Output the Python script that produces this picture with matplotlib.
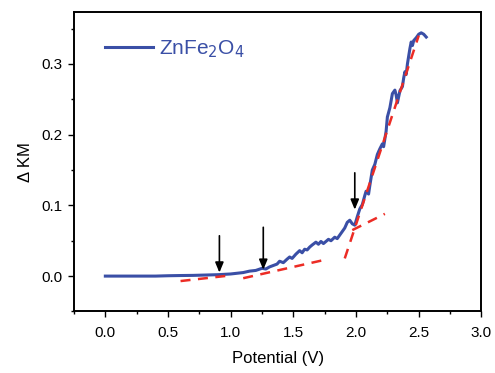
"""Delta KM vs potential for ZnFe2O4 with tangent lines marking onsets"""
import matplotlib.pyplot as plt
from matplotlib.patches import Rectangle
from matplotlib.ticker import MultipleLocator

plt.rcParams['font.family'] = ['Liberation Sans', 'DejaVu Sans']

# curve
potential = [0.00, 0.10, 0.20, 0.30, 0.40, 0.50, 0.60, 0.70, 0.80, 0.90,
             1.00, 1.05, 1.10, 1.15, 1.20, 1.25, 1.28, 1.31, 1.34, 1.37,
             1.39, 1.42, 1.45, 1.47, 1.49, 1.52, 1.55, 1.57, 1.59, 1.61,
             1.63, 1.65, 1.68, 1.70, 1.72, 1.74, 1.76, 1.78, 1.80, 1.83,
             1.85, 1.87, 1.89, 1.91, 1.93, 1.95, 1.97, 1.99, 2.01, 2.03,
             2.05, 2.07, 2.08, 2.10, 2.11, 2.13, 2.15, 2.17, 2.19, 2.21,
             2.22, 2.24, 2.25, 2.27, 2.29, 2.31, 2.32, 2.33, 2.35, 2.37,
             2.38, 2.39, 2.40, 2.41, 2.43, 2.44, 2.45, 2.46, 2.48, 2.50,
             2.52, 2.54, 2.56]
delta_km = [0.000, 0.000, 0.000, 0.000, 0.000, 0.0005, 0.0008, 0.001, 0.0015, 0.002,
            0.003, 0.004, 0.005, 0.007, 0.008, 0.011, 0.010, 0.013, 0.015, 0.017,
            0.021, 0.019, 0.024, 0.027, 0.025, 0.031, 0.036, 0.033, 0.038, 0.037,
            0.041, 0.044, 0.048, 0.045, 0.049, 0.046, 0.049, 0.052, 0.050, 0.055,
            0.053, 0.058, 0.063, 0.068, 0.076, 0.079, 0.074, 0.072, 0.084, 0.095,
            0.101, 0.114, 0.120, 0.116, 0.128, 0.150, 0.158, 0.172, 0.180, 0.187,
            0.183, 0.205, 0.225, 0.238, 0.258, 0.263, 0.256, 0.245, 0.262, 0.268,
            0.280, 0.289, 0.285, 0.300, 0.322, 0.331, 0.326, 0.333, 0.337, 0.342,
            0.344, 0.342, 0.338]

# tangent lines (start/end)
tangent_x = [[0.60, 1.00], [1.10, 1.75], [1.91, 2.50], [1.97, 2.23]]
tangent_y = [[-0.007, 0.001], [-0.003, 0.023], [0.025, 0.340], [0.065, 0.088]]

# onset arrows: x, tail y, head y
arrow_x = [0.91, 1.26, 1.99]
arrow_top = [0.057, 0.069, 0.146]
arrow_tip = [0.005, 0.009, 0.094]

blue = '#3a4fa6'
red = '#ec2c25'

fig = plt.figure(figsize=(4.95, 3.73), dpi=100)
ax = fig.add_axes([0.1495, 0.165, 0.823, 0.802])

ax.plot(potential, delta_km, color=blue, linewidth=2.2, label='ZnFe$_2$O$_4$', zorder=3)
for tx, ty in zip(tangent_x, tangent_y):
    ax.plot(tx, ty, color=red, linewidth=1.8, linestyle=(0, (4, 3)), zorder=4)

for x, y0, y1 in zip(arrow_x, arrow_top, arrow_tip):
    ax.annotate('', xy=(x, y1), xytext=(x, y0),
                arrowprops=dict(arrowstyle='-|>,head_width=0.25,head_length=0.6',
                                color='black', lw=1.2, shrinkA=0, shrinkB=0),
                zorder=5)

ax.set_xlim(-0.25, 3.0)
ax.set_ylim(-0.05, 0.373)
ax.xaxis.set_major_locator(MultipleLocator(0.5))
ax.xaxis.set_minor_locator(MultipleLocator(0.25))
ax.yaxis.set_major_locator(MultipleLocator(0.1))
ax.yaxis.set_minor_locator(MultipleLocator(0.05))
ax.xaxis.set_major_formatter(plt.FormatStrFormatter('%.1f'))
ax.yaxis.set_major_formatter(plt.FormatStrFormatter('%.1f'))
ax.tick_params(which='major', direction='out', length=4.5, width=1, labelsize=11)
ax.tick_params(axis='x', which='major', pad=6)
ax.tick_params(which='minor', direction='out', length=2.5, width=1)
ax.tick_params(top=False, right=False, which='both')
for sp in ax.spines.values():
    sp.set_linewidth(1.2)
# explicit frame so all four sides show
ax.add_patch(Rectangle((0, 0), 1, 1, transform=ax.transAxes, fill=False,
                       edgecolor='black', linewidth=1.2, clip_on=False, zorder=6))

ax.set_xlabel('Potential (V)', fontsize=12, labelpad=8)
ax.set_ylabel('Δ KM', fontsize=12, labelpad=6)

ax.legend(loc='upper left', bbox_to_anchor=(0.03, 0.975), frameon=False,
          fontsize=15, labelcolor=blue, handlelength=2.3, handletextpad=0.3)

plt.savefig('out.png', dpi=100)
